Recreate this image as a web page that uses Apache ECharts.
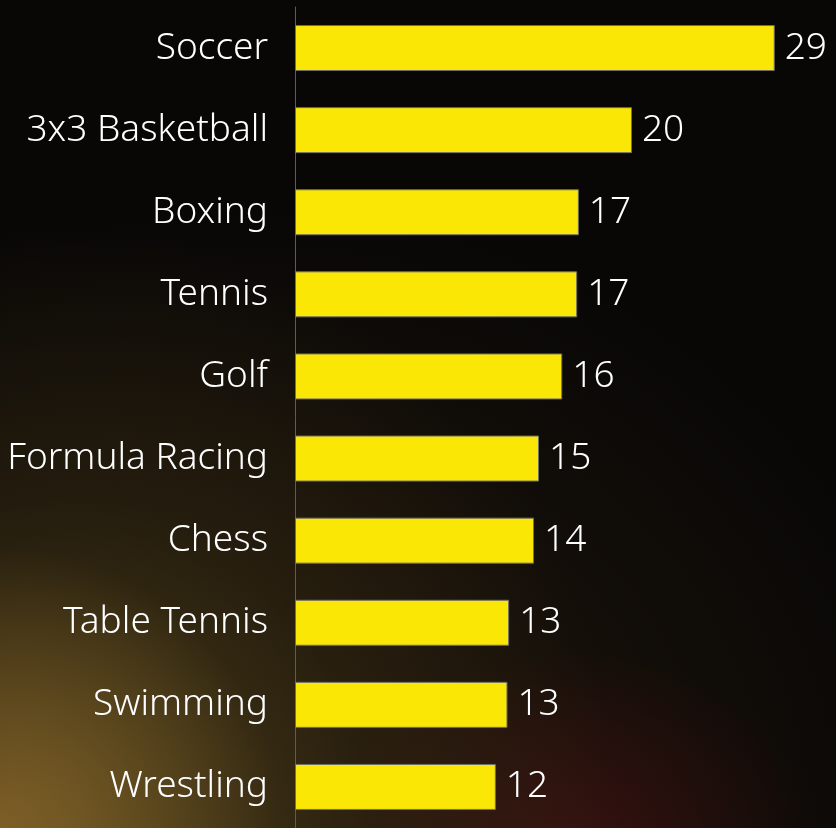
<!DOCTYPE html>
<html>
<head>
<meta charset="utf-8">
<script src="https://cdn.jsdelivr.net/npm/echarts@6/dist/echarts.min.js"></script>
<style>
html, body { margin: 0; padding: 0; }
body {
    width: 836px; height: 828px; overflow: hidden;
    background:
        radial-gradient(ellipse 280px 280px at 0px 828px, rgba(150,110,45,0.7), rgba(150,110,45,0) 100%),
        radial-gradient(ellipse 560px 600px at 60px 828px, rgba(90,78,30,0.75), rgba(60,48,20,0.4) 55%, rgba(30,20,10,0) 100%),
        radial-gradient(ellipse 250px 190px at 570px 840px, rgba(75,18,20,0.6), rgba(40,10,10,0) 100%),
        radial-gradient(ellipse 720px 640px at 250px 828px, rgba(45,30,15,0.7), rgba(20,12,8,0) 100%),
        #080706;
}
#main { width: 836px; height: 828px; }
</style>
</head>
<body>
<div id="main"></div>
<script>
var sports = ['Soccer', '3x3 Basketball', 'Boxing', 'Tennis', 'Golf',
    'Formula Racing', 'Chess', 'Table Tennis', 'Swimming', 'Wrestling'];
var shares = [28.9, 20.3, 17.1, 17.0, 16.1, 14.7, 14.4, 12.9, 12.8, 12.1];

var myChart = echarts.init(document.getElementById('main'));
option = {
    backgroundColor: 'transparent',
    grid: {
        left: 295,
        right: 43,
        top: 7,
        height: 827,
        containLabel: false
    },
    xAxis: {
        type: 'value',
        min: 0,
        max: 30,
        show: false
    },
    yAxis: {
        type: 'category',
        inverse: true,
        data: sports,
        axisTick: {show: false},
        axisLine: {
            lineStyle: {color: '#5c5c5c', width: 1}
        },
        axisLabel: {
            margin: 27,
            color: '#fff',
            fontSize: 37,
            fontWeight: 300,
            fontFamily: 'Noto Sans'
        }
    },
    series: [
        {
            type: 'bar',
            data: shares,
            barWidth: 46,
            itemStyle: {
                color: '#fae705',
                borderColor: '#6e6e6e',
                borderWidth: 1
            },
            label: {
                show: true,
                position: 'right',
                distance: 10,
                color: '#fff',
                fontSize: 37,
                fontWeight: 300,
                fontFamily: 'Noto Sans',
                formatter: function (p) { return Math.round(p.value); }
            }
        }
    ]
};
myChart.setOption(option);
</script>
</body>
</html>
